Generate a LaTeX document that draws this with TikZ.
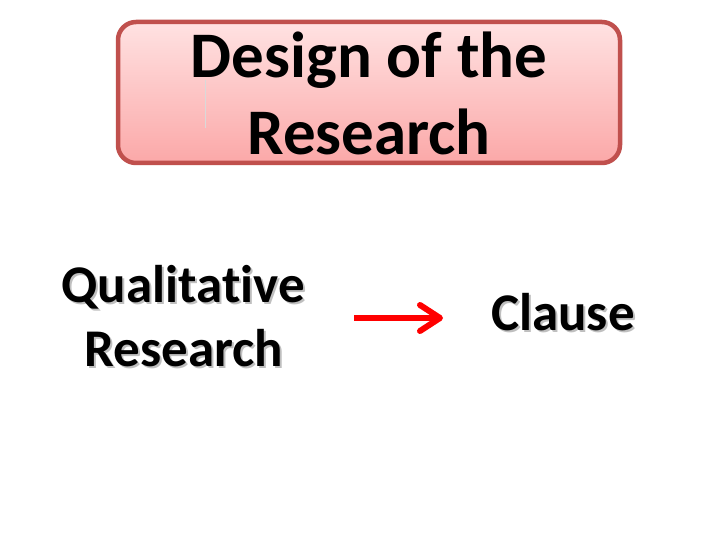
\documentclass[tikz,border=0pt]{standalone}
\usepackage{fontspec}
\setmainfont{Carlito}[Ligatures=NoCommon]
\definecolor{boxedge}{HTML}{C0504D}
\definecolor{boxtop}{HTML}{FFE2E2}
\definecolor{boxbot}{HTML}{FBA8A8}
\definecolor{arrowred}{HTML}{FF0000}
\tikzset{
  titletext/.style={font=\bfseries\fontsize{65}{78}\selectfont, anchor=base, inner sep=0pt},
  bodytext/.style={font=\bfseries\fontsize{53}{64}\selectfont, anchor=base, inner sep=0pt},
  shadowtext/.style={bodytext, text=black!25},
  redarrow/.style={arrowred, line width=6pt, line join=round},
}
\begin{document}
\begin{tikzpicture}[x=1pt,y=-1pt]
\useasboundingbox (0,0) rectangle (720,540);
\fill[white] (0,0) rectangle (720,540);
% title box
\shade[top color=boxtop, bottom color=boxbot, draw=boxedge, line width=4.5pt, rounded corners=18pt]
  (118,22) rectangle (620,163);
\draw[black!15, line width=0.8pt] (205,80) -- (205,128);
\node[titletext] (t1) at (369,78) {Design of the};
\node[titletext] (t2) at (369,155) {Research};
% left text
\node[shadowtext] at (185,304) {Qualitative};
\node[shadowtext] at (186,368) {Research};
\node[bodytext] (q1) at (183,302) {Qualitative};
\node[bodytext] (q2) at (184,366) {Research};
% right text
\node[shadowtext] at (565,332) {Clause};
\node[bodytext] (c) at (563,330) {Clause};
% arrow
\coordinate (as) at (354,318);
\coordinate (ae) at (440,318);
\draw[redarrow, line cap=butt] (as) -- (ae);
\draw[redarrow, line cap=round] ([shift={(-20,-13)}]ae) -- (ae) -- ([shift={(-20,13)}]ae);
\end{tikzpicture}
\end{document}
